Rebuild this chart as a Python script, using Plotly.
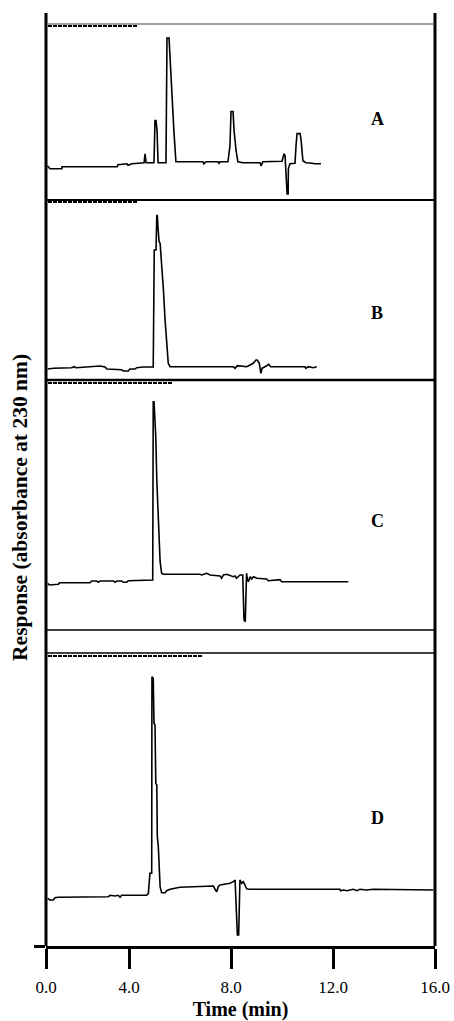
import plotly.graph_objects as go

# ---------------- data (time in min, response in arbitrary units) ----------------
time_a = [0.80, 0.90, 1.37, 1.37, 3.53, 3.57, 3.92, 3.96, 4.12, 4.43, 4.59, 4.63, 4.67, 4.75,
          4.98, 5.02, 5.06, 5.10, 5.14, 5.45, 5.49, 5.57, 5.61, 5.69, 5.76, 5.84, 6.90, 6.94,
          7.02, 7.49, 7.53, 7.57, 7.88, 7.96, 8.00, 8.08, 8.12, 8.20, 8.27, 8.47, 9.14, 9.18,
          9.25, 10.00, 10.08, 10.12, 10.16, 10.20, 10.24, 10.25, 10.31, 10.51, 10.55, 10.59,
          10.71, 10.75, 10.82, 10.94, 11.18, 11.29, 11.53]
resp_a = [34, 31, 31, 33, 33, 35, 36, 34.5, 36, 36.5, 37, 46, 37, 37,
          37, 79, 79, 69, 37, 37, 161, 161, 139, 106, 69, 38, 38, 36,
          38, 38, 36.5, 38, 38, 54, 88, 88, 69, 49, 38, 37, 37, 34,
          38, 38.5, 46, 44, 24, 6, 6, 31, 36, 36.5, 54, 66,
          66, 59, 39, 37, 36.5, 36, 36]

time_b = [0.81, 1.03, 1.75, 1.84, 1.92, 2.54, 2.86, 3.06, 3.13, 3.71, 3.78, 3.97, 4.04, 4.24,
          4.30, 4.56, 4.95, 4.99, 5.06, 5.09, 5.11, 5.14, 5.18, 5.22, 5.28, 5.35, 5.41, 5.48,
          5.54, 5.61, 8.09, 8.16, 8.25, 8.62, 8.68, 8.87, 8.98, 9.03, 9.11, 9.17, 9.22, 9.27,
          9.40, 9.48, 9.56, 9.66, 10.90, 10.94, 11.03, 11.23, 11.36]
resp_b = [11, 11.7, 12.3, 13.3, 12.3, 13, 14, 13, 11, 10.3, 9, 9, 11, 11,
          12.3, 13, 13, 130, 130, 165, 164.3, 151.7, 138.3, 136.7, 118.3, 90, 61.7, 38.3,
          16.7, 13.3, 13.3, 11.7, 14.3, 13.3, 14.3, 16.7, 20, 20, 16.7, 6.7, 11.7, 12.3,
          14.3, 15.7, 13.3, 13.3, 13.3, 11.7, 13.3, 12.3, 13.3]

time_c = [0.81, 0.88, 1.23, 1.27, 2.47, 2.54, 2.73, 2.80, 2.86, 3.39, 3.45, 3.52, 3.71, 3.78,
          3.91, 3.97, 4.93, 4.95, 4.98, 5.05, 5.09, 5.15, 5.22, 5.28, 5.35, 6.78, 6.85, 7.05,
          7.18, 7.57, 7.63, 7.70, 7.83, 8.09, 8.16, 8.22, 8.35, 8.46, 8.48, 8.51, 8.56, 8.59,
          8.61, 8.64, 8.68, 8.75, 8.81, 8.88, 9.01, 9.40, 9.46, 9.92, 9.99, 12.60]
resp_c = [46.7, 45, 45.7, 47.3, 47.3, 49, 49, 47.7, 49, 49, 47.7, 49, 49, 47.7,
          47.7, 49.3, 50, 228.3, 228.3, 193.3, 150, 111.7, 68.3, 56.7, 55.7, 55.7, 55, 56.7,
          55, 54, 51.7, 55, 55.7, 53.3, 54, 51.7, 55, 55, 41.7, 10, 8.3, 38.3,
          56.7, 51, 48.3, 53.3, 51, 53.3, 51.7, 51, 49.3, 50.3, 48.3, 48.3]

time_d = [0.81, 0.90, 1.03, 1.10, 1.23, 3.19, 3.26, 3.45, 3.58, 3.65, 3.71, 4.69, 4.76, 4.82,
          4.89, 4.90, 4.95, 4.98, 5.02, 5.05, 5.09, 5.11, 5.15, 5.19, 5.22, 5.28, 5.41, 5.48,
          5.61, 6.00, 6.78, 7.31, 7.37, 7.44, 7.50, 7.57, 7.96, 8.09, 8.16, 8.20, 8.25, 8.30,
          8.33, 8.35, 8.42, 8.48, 8.55, 8.61, 8.68, 12.27, 12.30, 12.41, 12.54, 12.80, 12.93,
          13.06, 13.32, 13.58, 15.93]
resp_d = [47.7, 46, 46, 48.3, 48.7, 49.3, 50.7, 50, 50.7, 48.7, 50.7, 50.7, 52.7, 72.7,
          72.7, 269.3, 267.7, 222.7, 221, 162.7, 161, 109.3, 99.3, 72.7, 59.3, 53.3, 53.3, 55.3,
          56.7, 58.7, 59.3, 60, 56.7, 54.3, 59.3, 61, 62.7, 64.3, 66, 42.7, 11, 11,
          59.3, 66, 62.7, 64.3, 61, 57.3, 56.7, 56.7, 55.3, 56, 55.3, 56.7, 55.3,
          56.7, 56, 56.7, 56]

panel_labels = ["A", "B", "C", "D"]
label_time = 13.73
label_resp = [81, 67, 109, 128]
panel_ranges = [175, 180, 250, 293]

tick_vals = [0.745, 4, 8, 12, 16]
tick_text = ["0.0", "4.0", "8.0", "12.0", "16.0"]

# ---------------- figure ----------------
W, H = 454, 1021
ml, mr, mt, mb = 46, 19, 13, 75
plot_h = H - mt - mb


def py(pix):
    """paper y fraction from pixel row"""
    return (H - mb - pix) / plot_h


def px(pix):
    return (pix - ml) / (W - ml - mr)


domains = [
    [py(200), py(24)],
    [py(380), py(200)],
    [py(630), py(380)],
    [0, py(653)],
]

fig = go.Figure()
series = [(time_a, resp_a), (time_b, resp_b), (time_c, resp_c), (time_d, resp_d)]
yaxes = ["y", "y2", "y3", "y4"]
for (t, r), ya in zip(series, yaxes):
    fig.add_trace(go.Scatter(x=t, y=r, mode="lines", xaxis="x", yaxis=ya,
                             line=dict(color="black", width=1.6, shape="linear"),
                             showlegend=False, hoverinfo="skip"))

serif = "Liberation Serif"
layout = dict(
    width=W, height=H,
    margin=dict(l=ml, r=mr, t=mt, b=mb, autoexpand=False),
    paper_bgcolor="white", plot_bgcolor="white",
    showlegend=False,
    xaxis=dict(range=[0.745, 16.0], anchor="y4", showgrid=False, zeroline=False,
               showline=True, linecolor="black", linewidth=3,
               ticks="outside", ticklen=20, tickwidth=3, tickcolor="black",
               tickvals=tick_vals, ticktext=tick_text, ticklabelstandoff=4,
               tickfont=dict(family=serif, size=17, color="black"),
               title=dict(text="<b>Time (min)</b>", font=dict(family=serif, size=20, color="black"),
                          standoff=7)),
)
for i, ya in enumerate(yaxes):
    key = "yaxis" if i == 0 else f"yaxis{i+1}"
    ax = dict(domain=domains[i], range=[0, panel_ranges[i]], anchor="x",
              showgrid=False, zeroline=False, showticklabels=False, fixedrange=True)
    if i == 3:
        ax.update(showline=False, ticks="outside", tickvals=[0], ticklen=11, tickwidth=3,
                  tickcolor="black")
    else:
        ax.update(showline=False, ticks="")
    layout[key] = ax
fig.update_layout(**layout)

shapes = []
# frame lines
shapes.append(dict(type="line", xref="paper", yref="paper", x0=0, x1=0, y0=0, y1=1,
                   line=dict(color="black", width=3)))
shapes.append(dict(type="line", xref="paper", yref="paper", x0=1, x1=1, y0=0, y1=1,
                   line=dict(color="black", width=3)))
for pix, w, c in [(24, 1.2, "#444"), (200, 2.2, "black"), (380, 2.5, "black"),
                  (630, 1.5, "black"), (653, 1.5, "black")]:
    shapes.append(dict(type="line", xref="paper", yref="paper", x0=0, x1=1, y0=py(pix), y1=py(pix),
                       line=dict(color=c, width=w)))
# detector header marks
for pix, xend in [(26, 137), (202, 137), (383, 172), (656, 202)]:
    shapes.append(dict(type="line", xref="paper", yref="paper", x0=px(48), x1=px(xend),
                       y0=py(pix), y1=py(pix), line=dict(color="black", width=2.2, dash="4px,1px")))
fig.update_layout(shapes=shapes)

annotations = []
for i, lab in enumerate(panel_labels):
    annotations.append(dict(x=label_time, y=label_resp[i], xref="x", yref=yaxes[i],
                            text=f"<b>{lab}</b>", showarrow=False,
                            font=dict(family=serif, size=18, color="black")))
annotations.append(dict(x=-0.067, y=py(507), xref="paper", yref="paper", textangle=-90,
                        text="<b>Response (absorbance at 230 nm)</b>", showarrow=False,
                        xanchor="center", yanchor="middle",
                        font=dict(family=serif, size=21.5, color="black")))
fig.update_layout(annotations=annotations)

fig.write_html("out.html",
               config={"displayModeBar": False},
               post_script="document.documentElement.style.margin='0';"
                           "document.body.style.margin='0';"
                           "document.body.style.overflow='hidden';")
